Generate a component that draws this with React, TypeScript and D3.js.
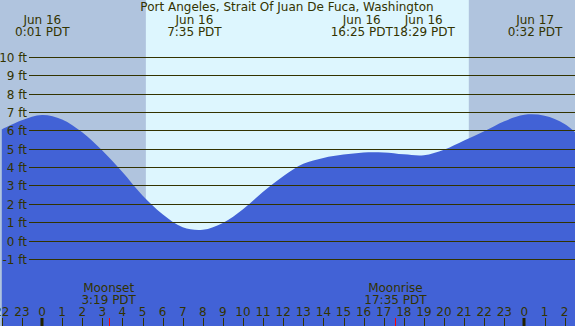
import React, { useEffect, useRef } from 'react';
import * as d3 from 'd3';

// tide heights (ft), hourly from 22:00 Jun 15 (-2) to 03:00 Jun 17 (27)
const hours = d3.range(-2, 28);
const heights = [
  6.05, 6.55, 6.84, 6.6, 5.9, 4.9, 3.73, 2.45, 1.43, 0.72, 0.58, 0.95, 1.7, 2.65, 3.5, 4.18,
  4.5, 4.68, 4.8, 4.8, 4.7, 4.65, 4.95, 5.45, 5.95, 6.5, 6.85, 6.8, 6.35, 5.4,
];

const yTicks = [-1, 0, 1, 2, 3, 4, 5, 6, 7, 8, 9, 10];

// tide extremes (hour from midnight Jun 16)
const extremes = [
  { t: 0 + 1 / 60, day: 'Jun 16', label: '0:01 PDT' },
  { t: 7 + 35 / 60, day: 'Jun 16', label: '7:35 PDT' },
  { t: 16 + 25 / 60, day: 'Jun 16', label: '16:25 PDT' },
  { t: 18 + 29 / 60, day: 'Jun 16', label: '18:29 PDT' },
  { t: 24 + 32 / 60, day: 'Jun 17', label: '0:32 PDT' },
];

const moonEvents = [
  { t: 3 + 19 / 60, name: 'Moonset', label: '3:19 PDT' },
  { t: 17 + 35 / 60, name: 'Moonrise', label: '17:35 PDT' },
];

const sunrise = 5 + 10 / 60;
const sunset = 21 + 14 / 60;

const title = 'Port Angeles, Strait Of Juan De Fuca, Washington';

const W = 575;
const H = 326;
const textColor = '#333300';

export default function App() {
  const svgRef = useRef<SVGSVGElement | null>(null);

  useEffect(() => {
    if (!svgRef.current) return;
    const svg = d3.select(svgRef.current);
    svg.selectAll('*').remove();

    const x = d3.scaleLinear().domain([0, 24]).range([42, 524.4]);
    const y = d3.scaleLinear().domain([0, 10]).range([240.5, 57]);

    // night / day background
    svg.append('rect').attr('x', 0).attr('y', 0).attr('width', W).attr('height', H).attr('fill', '#b0c4de');
    svg
      .append('rect')
      .attr('x', x(sunrise))
      .attr('y', 0)
      .attr('width', x(sunset) - x(sunrise))
      .attr('height', H)
      .attr('fill', '#ddf6fe');

    // tide area
    const pts = hours.map((h, i) => [h, heights[i]] as [number, number]);
    const area = d3
      .area<[number, number]>()
      .x((d) => x(d[0]))
      .y0(H)
      .y1((d) => y(d[1]))
      .curve(d3.curveCatmullRom);
    svg.append('path').datum(pts).attr('d', area).attr('fill', '#4262d6');

    // grid lines + labels
    const g = svg.append('g').attr('font-family', 'DejaVu Sans').attr('font-size', 12).attr('fill', textColor);
    yTicks.forEach((v) => {
      svg
        .append('line')
        .attr('x1', 29)
        .attr('x2', W)
        .attr('y1', Math.round(y(v)) + 0.5)
        .attr('y2', Math.round(y(v)) + 0.5)
        .attr('stroke', textColor)
        .attr('stroke-width', 1);
      g.append('text')
        .attr('x', 27)
        .attr('y', Math.round(y(v)) + 4.5)
        .attr('text-anchor', 'end')
        .text(`${v} ft`);
    });

    // title
    g.append('text').attr('x', 287).attr('y', 11).attr('text-anchor', 'middle').text(title);

    // extreme labels, pushed apart when they collide
    const minGap = 62;
    const xs = extremes.map((e) => x(e.t));
    for (let i = 1; i < xs.length; i++) {
      if (xs[i] - xs[i - 1] < minGap) {
        const mid = (xs[i] + xs[i - 1]) / 2;
        xs[i - 1] = mid - minGap / 2;
        xs[i] = mid + minGap / 2;
      }
    }
    extremes.forEach((e, i) => {
      g.append('text').attr('x', xs[i]).attr('y', 24).attr('text-anchor', 'middle').text(e.day);
      g.append('text').attr('x', xs[i]).attr('y', 36).attr('text-anchor', 'middle').text(e.label);
    });

    // moon events
    moonEvents.forEach((m) => {
      g.append('text').attr('x', x(m.t)).attr('y', 292).attr('text-anchor', 'middle').text(m.name);
      g.append('text').attr('x', x(m.t)).attr('y', 304).attr('text-anchor', 'middle').text(m.label);
      svg
        .append('line')
        .attr('x1', Math.round(x(m.t)) + 0.5)
        .attr('x2', Math.round(x(m.t)) + 0.5)
        .attr('y1', 318)
        .attr('y2', H)
        .attr('stroke', '#ff0000');
    });

    // hour ticks
    hours.forEach((h) => {
      const hx = Math.round(x(h));
      const mid = ((h % 24) + 24) % 24 === 0;
      g.append('text')
        .attr('x', x(h))
        .attr('y', 316)
        .attr('text-anchor', 'middle')
        .text(String(((h % 24) + 24) % 24));
      svg
        .append('line')
        .attr('x1', mid ? hx : hx + 0.5)
        .attr('x2', mid ? hx : hx + 0.5)
        .attr('y1', 318)
        .attr('y2', H)
        .attr('stroke', mid ? '#222200' : textColor)
        .attr('stroke-width', mid ? 3 : 1);
    });
  }, []);

  return (
    <svg
      ref={svgRef}
      width={W}
      height={H}
      style={{ position: 'absolute', left: 0, top: 0, display: 'block' }}
    />
  );
}
